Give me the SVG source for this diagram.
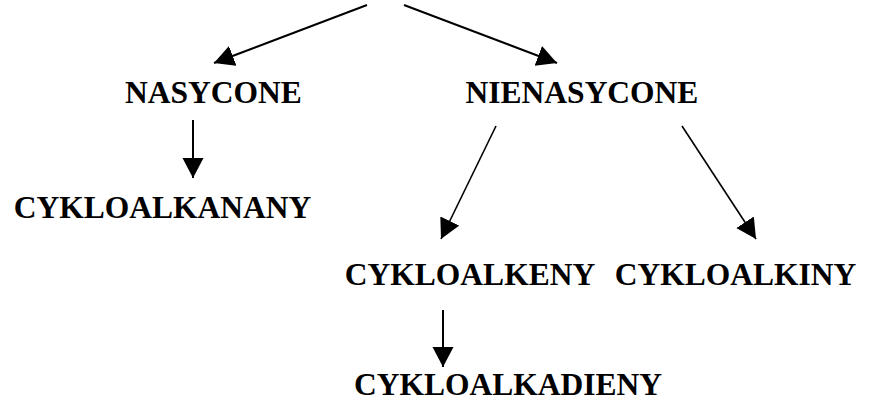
<svg xmlns="http://www.w3.org/2000/svg" width="879" height="403" viewBox="0 0 879 403">
  <style>
    .label { font-family: "Liberation Serif", "Times New Roman", serif; font-weight: bold; font-size: 31.5px; fill: #000; text-anchor: middle; }
    .edge { stroke: #000; stroke-width: 2; fill: none; marker-end: url(#head); }
    .edge.thin { stroke-width: 1.6; }
  </style>
  <defs>
    <marker id="head" markerUnits="userSpaceOnUse" markerWidth="22" markerHeight="22" refX="20" refY="10.5" orient="auto" viewBox="0 0 22 22">
      <path d="M0,0 L20,10.5 L0,21 z" fill="#000"/>
    </marker>
  </defs>

  <g id="connectors">
    <line class="edge" x1="367" y1="5" x2="214" y2="63"/>
    <line class="edge" x1="404" y1="5" x2="557" y2="63"/>
    <line class="edge" x1="193" y1="120" x2="193" y2="178"/>
    <line class="edge thin" x1="496" y1="126" x2="441" y2="239"/>
    <line class="edge thin" x1="682" y1="126" x2="756" y2="239"/>
    <line class="edge" x1="443" y1="310" x2="443" y2="367"/>
  </g>

  <g id="nasycone"><text class="label" x="213.5" y="103">NASYCONE</text></g>
  <g id="nienasycone"><text class="label" x="582" y="103">NIENASYCONE</text></g>
  <g id="cykloalkanany"><text class="label" x="162.5" y="218">CYKLOALKANANY</text></g>
  <g id="cykloalkeny"><text class="label" x="470" y="285">CYKLOALKENY</text></g>
  <g id="cykloalkiny"><text class="label" x="735.5" y="285">CYKLOALKINY</text></g>
  <g id="cykloalkadieny"><text class="label" x="508" y="395">CYKLOALKADIENY</text></g>
</svg>
